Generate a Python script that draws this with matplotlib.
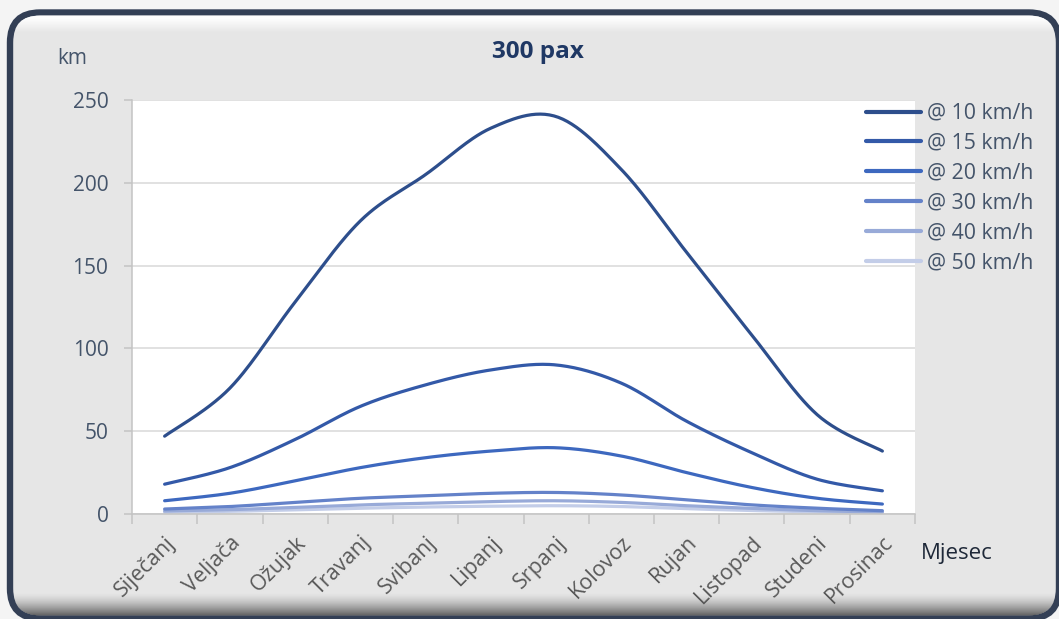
import numpy as np
import matplotlib
matplotlib.use("Agg")
import matplotlib.pyplot as plt
from matplotlib.patches import FancyBboxPatch

# ---------------- data ----------------
months = ["Siječanj", "Veljača", "Ožujak", "Travanj", "Svibanj", "Lipanj",
          "Srpanj", "Kolovoz", "Rujan", "Listopad", "Studeni", "Prosinac"]
series_labels = ["@ 10 km/h", "@ 15 km/h", "@ 20 km/h", "@ 30 km/h", "@ 40 km/h", "@ 50 km/h"]
v10 = [47, 76, 128, 177, 205, 233, 240, 208, 158, 108, 60, 38]
v15 = [18, 28, 45, 65, 78, 87, 90, 79, 56, 37, 21, 14]
v20 = [8, 12.5, 20, 28, 34, 38, 40, 35, 25, 16, 9.5, 6]
v30 = [3, 4.5, 7, 9.5, 11, 12.5, 13, 11.5, 8.5, 5.5, 3.5, 2]
v40 = [1.8, 2.6, 4, 5.5, 6.5, 7.5, 8, 7, 5, 3.4, 2, 1.2]
v50 = [1, 1.6, 2.5, 3.5, 4.2, 4.7, 5, 4.5, 3.2, 2.1, 1.3, 0.8]
all_series = [v10, v15, v20, v30, v40, v50]
yticks = [0, 50, 100, 150, 200, 250]

colors = ["#2d4e8c", "#3359a8", "#3d68bf", "#6482c9", "#98aad8", "#c3cde8"]

W, H = 1059, 619
fig = plt.figure(figsize=(W / 100, H / 100), dpi=100)
FONT = ["Open Sans", "DejaVu Sans"]
plt.rcParams["font.family"] = FONT

# ---------------- background / frame ----------------
bg = fig.add_axes([0, 0, 1, 1], zorder=-10)
bg.set_xlim(0, W)
bg.set_ylim(H, 0)
bg.axis("off")
bg.add_patch(plt.Rectangle((0, 0), W, H, color="#f4f4f4"))
frame = FancyBboxPatch((10, 12.5), 1049, 606, boxstyle="round,pad=0,rounding_size=30",
                       facecolor="#e6e6e6", edgecolor="#333f55", linewidth=4.6, zorder=1)
bg.add_patch(frame)
# inner highlight (top) and shadow (bottom)
grad = np.zeros((H, W, 4))
yy = np.arange(H)[:, None]
top_a = np.clip(1 - (yy - 18) / 14.0, 0, 1) * (yy >= 15)
grad[..., 0:3] = 1.0
grad[..., 3] = top_a * 0.95
im1 = bg.imshow(grad, extent=(0, W, H, 0), zorder=2, interpolation="bilinear")
inner = FancyBboxPatch((13, 15.5), 1043, 600, boxstyle="round,pad=0,rounding_size=27",
                       transform=bg.transData, facecolor="none", edgecolor="none")
bg.add_patch(inner)
im1.set_clip_path(inner)
shad = np.zeros((H, W, 4))
bot_a = np.clip((yy - 592) / 22.0, 0, 1)
shad[..., 0:3] = 0.25
shad[..., 3] = bot_a ** 1.5 * 0.75
im2 = bg.imshow(shad, extent=(0, W, H, 0), zorder=2, interpolation="bilinear")
im2.set_clip_path(inner)
bg.set_xlim(0, W)
bg.set_ylim(H, 0)

# ---------------- main axes ----------------
L, R, T, B = 132, 915, 100, 514
ax = fig.add_axes([L / W, 1 - B / H, (R - L) / W, (B - T) / H])
ax.set_facecolor("white")


def catmull(y):
    y = np.asarray(y, float)
    n = len(y)
    xs, ys = [], []
    t = np.linspace(0, 1, 30)
    for i in range(n - 1):
        p0 = y[i - 1] if i > 0 else y[i]
        p1, p2 = y[i], y[i + 1]
        p3 = y[i + 2] if i + 2 < n else y[i + 1]
        x0 = i - 1 if i > 0 else i
        x3 = i + 2 if i + 2 < n else i + 1
        c1y = p1 + (p2 - p0) / 6.0
        c2y = p2 - (p3 - p1) / 6.0
        c1x = i + ((i + 1) - x0) / 6.0
        c2x = (i + 1) - (x3 - i) / 6.0
        bx = (1 - t) ** 3 * i + 3 * (1 - t) ** 2 * t * c1x + 3 * (1 - t) * t ** 2 * c2x + t ** 3 * (i + 1)
        by = (1 - t) ** 3 * p1 + 3 * (1 - t) ** 2 * t * c1y + 3 * (1 - t) * t ** 2 * c2y + t ** 3 * p2
        xs.append(bx)
        ys.append(by)
    return np.concatenate(xs), np.concatenate(ys)


handles = []
for vals, lab, c in reversed(list(zip(all_series, series_labels, colors))):
    sx, sy = catmull(vals)
    h, = ax.plot(sx, sy, color=c, lw=2.3, solid_capstyle="round", label=lab)
    handles.append(h)
handles = handles[::-1]

ax.set_xlim(-0.5, 11.5)
ax.set_ylim(0, 250)
ax.set_yticks(yticks)
ax.set_yticklabels([str(v) for v in yticks])
ax.grid(axis="y", color="#d9d9d9", lw=1.1)
ax.set_axisbelow(True)
for s in ["top", "right"]:
    ax.spines[s].set_visible(False)
for s in ["left", "bottom"]:
    ax.spines[s].set_color("#c4c4c4")
    ax.spines[s].set_linewidth(1.1)
ax.tick_params(axis="y", length=6, width=1.1, color="#c4c4c4", pad=11,
               labelsize=15, labelcolor="#44546a")
ax.set_xticks(np.arange(12))
ax.set_xticklabels(months, rotation=45, ha="right", va="top", rotation_mode="anchor")
ax.set_xticks(np.arange(-0.5, 12, 1), minor=True)
ax.tick_params(axis="x", which="major", length=0, pad=13, labelsize=15.5, labelcolor="#595959")
ax.tick_params(axis="x", which="minor", length=7, width=1.1, color="#c4c4c4")

# titles / labels
fig.text(538 / W, 1 - 52 / H, "300 pax", ha="center", va="center", fontsize=17.5,
         fontweight="bold", color="#1f3864")
fig.text(72 / W, 1 - 58 / H, "km", ha="center", va="center", fontsize=15, color="#44546a")
fig.text(921 / W, 1 - 553 / H, "Mjesec", ha="left", va="center", fontsize=16, color="#1e2838")

leg = fig.legend(handles=handles, labels=series_labels, loc="upper left",
                 bbox_to_anchor=(866 / W, 1 - 103 / H), frameon=False, fontsize=15.3,
                 handlelength=2.6, handletextpad=0.25, labelspacing=0.42, borderpad=0,
                 borderaxespad=0)
for t in leg.get_texts():
    t.set_color("#44546a")
for h in leg.legend_handles:
    h.set_linewidth(3)

fig.savefig("out.png", dpi=100)
